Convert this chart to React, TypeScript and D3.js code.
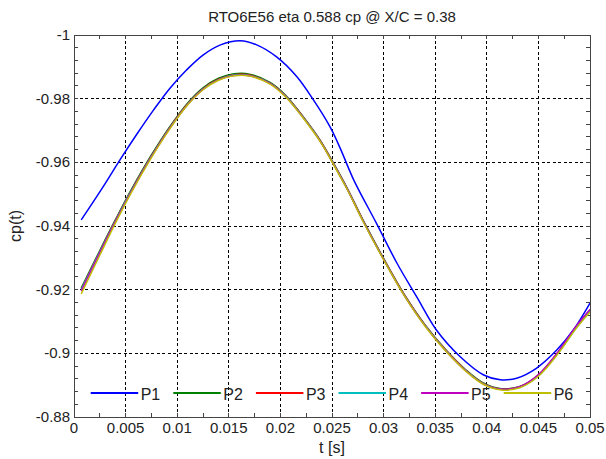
import React from "react";
import * as d3 from "d3";

const title = "RTO6E56 eta 0.588 cp @ X/C = 0.38";
const xLabel = "t [s]";
const yLabel = "cp(t)";
const xTicks = [0, 0.005, 0.01, 0.015, 0.02, 0.025, 0.03, 0.035, 0.04, 0.045, 0.05];
const xTickLabels = ["0", "0.005", "0.01", "0.015", "0.02", "0.025", "0.03", "0.035", "0.04", "0.045", "0.05"];
const yTicks = [-1, -0.98, -0.96, -0.94, -0.92, -0.9, -0.88];
const yTickLabels = ["-1", "-0.98", "-0.96", "-0.94", "-0.92", "-0.9", "-0.88"];

const tP1 = [0.0007, 0.0028, 0.0045, 0.0061, 0.0077, 0.0093, 0.0109, 0.0125, 0.0142, 0.0161, 0.0177, 0.0196, 0.0216, 0.0232, 0.0248, 0.0258, 0.0271, 0.0293, 0.0313, 0.0332, 0.0351, 0.0374, 0.0397, 0.0413, 0.0429, 0.0448, 0.0468, 0.0484, 0.05];
const P1 = [-0.9419, -0.9522, -0.961, -0.9689, -0.9764, -0.9833, -0.989, -0.9937, -0.9969, -0.9982, -0.9969, -0.9932, -0.9869, -0.9796, -0.9712, -0.9644, -0.9545, -0.9409, -0.9283, -0.9178, -0.9074, -0.899, -0.8932, -0.8917, -0.8922, -0.8953, -0.9011, -0.9074, -0.9158];

const tP = [0.0007, 0.0025, 0.004, 0.0055, 0.0075, 0.0093, 0.011, 0.0125, 0.014, 0.0155, 0.017, 0.019, 0.0205, 0.022, 0.0238, 0.0252, 0.0265, 0.028, 0.03, 0.032, 0.034, 0.036, 0.038, 0.0397, 0.0414, 0.0432, 0.045, 0.047, 0.0487, 0.05];
const P2 = [-0.9205, -0.9323, -0.9419, -0.9511, -0.9623, -0.9713, -0.9786, -0.9834, -0.9864, -0.9878, -0.9877, -0.9851, -0.9811, -0.9752, -0.9672, -0.9594, -0.9517, -0.9419, -0.9298, -0.9185, -0.909, -0.9012, -0.8947, -0.8906, -0.8889, -0.8896, -0.8932, -0.9007, -0.9083, -0.9136];
const P3 = [-0.9201, -0.932, -0.9416, -0.9508, -0.962, -0.971, -0.9783, -0.9831, -0.9861, -0.9875, -0.9874, -0.9849, -0.9809, -0.9751, -0.9671, -0.9593, -0.9516, -0.9418, -0.9297, -0.9184, -0.9089, -0.9011, -0.8946, -0.8905, -0.8888, -0.8895, -0.8931, -0.9006, -0.9084, -0.9135];
const P4 = [-0.92, -0.9319, -0.9415, -0.9507, -0.9619, -0.9709, -0.9782, -0.983, -0.986, -0.9874, -0.9873, -0.9848, -0.9808, -0.975, -0.967, -0.9592, -0.9515, -0.9417, -0.9296, -0.9183, -0.9088, -0.901, -0.8945, -0.8904, -0.8887, -0.8894, -0.893, -0.9005, -0.9082, -0.9134];
const P5 = [-0.9196, -0.9316, -0.9413, -0.9505, -0.9617, -0.9708, -0.9781, -0.9829, -0.9859, -0.9873, -0.9872, -0.9847, -0.9807, -0.9749, -0.9669, -0.9591, -0.9514, -0.9416, -0.9295, -0.9182, -0.9087, -0.9009, -0.8944, -0.8903, -0.8887, -0.8895, -0.8933, -0.9009, -0.9087, -0.9138];
const P6 = [-0.9187, -0.9308, -0.9408, -0.9502, -0.9615, -0.9706, -0.978, -0.9828, -0.9858, -0.9872, -0.9871, -0.9846, -0.9806, -0.9748, -0.9668, -0.959, -0.9513, -0.9415, -0.9294, -0.9181, -0.9086, -0.9008, -0.8943, -0.8902, -0.8885, -0.8892, -0.8928, -0.9003, -0.908, -0.913];

const seriesNames = ["P1", "P2", "P3", "P4", "P5", "P6"];
const seriesColors = ["#0000ff", "#008000", "#ff0000", "#00bfbf", "#bf00bf", "#bfbf00"];

const W = 606, H = 459;
const M = { left: 74, right: 590, top: 35, bottom: 417 };

export default function App() {
  const x = d3.scaleLinear().domain([0, 0.05]).range([M.left, M.right]);
  const y = d3.scaleLinear().domain([-1, -0.88]).range([M.top, M.bottom]);
  const series = [
    { t: tP1, v: P1 },
    { t: tP, v: P2 },
    { t: tP, v: P3 },
    { t: tP, v: P4 },
    { t: tP, v: P5 },
    { t: tP, v: P6 },
  ];
  const line = d3
    .line<[number, number]>()
    .x((d) => x(d[0]))
    .y((d) => y(d[1]))
    .curve(d3.curveCatmullRom.alpha(0.5));

  const xMinor = d3.range(0, 0.05 + 1e-9, 0.0025);
  const yMinor = d3.range(-1, -0.88 + 1e-9, 0.004);
  const tickLen = 4;
  const axisColor = "#444";
  const font = "'Liberation Sans', Arial, sans-serif";

  const legStart = 90.7;
  const legStep = 82.6;
  const legY = 393;

  return (
    <svg width={W} height={H} style={{ position: "absolute", left: 0, top: 0, background: "#fff" }} fontFamily={font}>
      <rect x={0} y={0} width={W} height={H} fill="#fff" />
      {xTicks.slice(1, -1).map((t, i) => (
        <line key={"gx" + i} x1={x(t)} x2={x(t)} y1={M.top} y2={M.bottom} stroke="#000" strokeWidth={1} strokeDasharray="3,2.5" shapeRendering="crispEdges" />
      ))}
      {yTicks.slice(1, -1).map((t, i) => (
        <line key={"gy" + i} x1={M.left} x2={M.right} y1={y(t)} y2={y(t)} stroke="#000" strokeWidth={1} strokeDasharray="3,2.5" shapeRendering="crispEdges" />
      ))}
      {xMinor.map((t, i) => (
        <g key={"xm" + i}>
          <line x1={x(t)} x2={x(t)} y1={M.bottom} y2={M.bottom - tickLen} stroke={axisColor} shapeRendering="crispEdges" />
          <line x1={x(t)} x2={x(t)} y1={M.top} y2={M.top + tickLen} stroke={axisColor} shapeRendering="crispEdges" />
        </g>
      ))}
      {yMinor.map((t, i) => (
        <g key={"ym" + i}>
          <line x1={M.left} x2={M.left + tickLen} y1={y(t)} y2={y(t)} stroke={axisColor} shapeRendering="crispEdges" />
          <line x1={M.right} x2={M.right - tickLen} y1={y(t)} y2={y(t)} stroke={axisColor} shapeRendering="crispEdges" />
        </g>
      ))}
      <g>
        {series.map((s, i) => (
          <path
            key={"s" + i}
            d={line(s.t.map((t, j) => [t, s.v[j]] as [number, number])) || ""}
            fill="none"
            stroke={seriesColors[i]}
            strokeWidth={1.5}
          />
        ))}
      </g>
      {seriesNames.map((n, i) => (
        <g key={"lg" + i}>
          <line x1={legStart + i * legStep} x2={legStart + i * legStep + 47.5} y1={legY} y2={legY} stroke={seriesColors[i]} strokeWidth={2} />
          <text x={legStart + i * legStep + 50} y={legY + 7} fontSize={16} fill="#222">{n}</text>
        </g>
      ))}
      <rect x={M.left} y={M.top} width={M.right - M.left} height={M.bottom - M.top} fill="none" stroke={axisColor} strokeWidth={1} shapeRendering="crispEdges" />
      {xTicks.map((t, i) => (
        <text key={"xl" + i} x={x(t)} y={M.bottom + 16} textAnchor="middle" fontSize={15} fill="#222">{xTickLabels[i]}</text>
      ))}
      {yTicks.map((t, i) => (
        <text key={"yl" + i} x={70} y={y(t) + 5} textAnchor="end" fontSize={15} fill="#222">{yTickLabels[i]}</text>
      ))}
      <text x={(M.left + M.right) / 2} y={22} textAnchor="middle" fontSize={15} fill="#222">{title}</text>
      <text x={(M.left + M.right) / 2} y={453} textAnchor="middle" fontSize={16} fill="#222">{xLabel}</text>
      <text transform={`translate(21,${(M.top + M.bottom) / 2}) rotate(-90)`} textAnchor="middle" fontSize={16} fill="#222">{yLabel}</text>
    </svg>
  );
}
